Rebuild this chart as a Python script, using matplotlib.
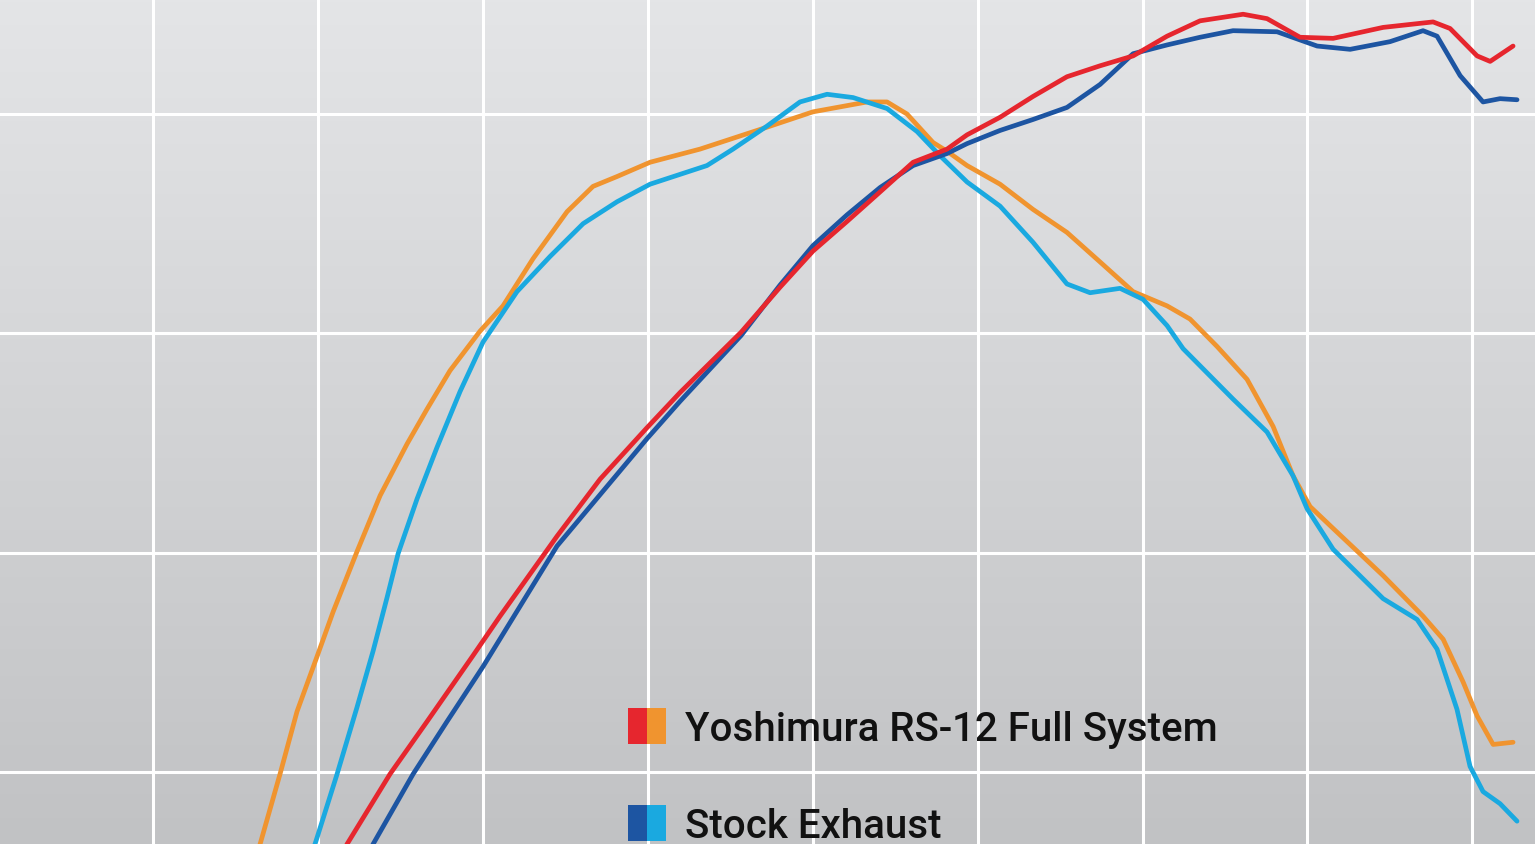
import numpy as np
from matplotlib import pyplot as plt
from matplotlib.patches import Patch
from matplotlib.legend_handler import HandlerTuple
from matplotlib.colors import LinearSegmentedColormap

# Yoshimura RS-12 full system, torque
yosh_tq_rpm = [2580, 2649, 2770, 2873, 2994, 3092, 3237, 3377, 3540, 3662, 3801, 3983, 4122, 4304,
               4511, 4668, 4814, 5014, 5317, 5723, 6002, 6330, 6451, 6572, 6730, 6815, 6936, 7136,
               7336, 7542, 7743, 7943, 8149, 8288, 8452, 8634, 8792, 8913, 9016, 9156, 9459, 9701,
               9823, 9944, 10029, 10126, 10247]
yosh_tq = [11.0, 13.4, 19.8, 25.5, 30.5, 34.6, 40.1, 45.2, 49.9, 53.1, 56.6, 60.2, 62.5, 66.8,
           71.1, 73.4, 74.3, 75.6, 76.8, 78.8, 80.2, 81.1, 81.1, 80.0, 77.4, 76.6, 75.3, 73.6,
           71.3, 69.2, 66.5, 63.8, 62.5, 61.3, 58.8, 55.8, 51.5, 47.0, 44.2, 42.2, 37.9, 34.2,
           32.1, 28.2, 25.1, 22.5, 22.7]

# stock exhaust, torque
stock_tq_rpm = [2958, 2982, 3116, 3237, 3334, 3419, 3486, 3601, 3722, 3862, 4001, 4207, 4407, 4608,
                4814, 5014, 5359, 5517, 5723, 5923, 6087, 6245, 6451, 6633, 6772, 6936, 7136, 7336,
                7542, 7682, 7864, 8003, 8149, 8246, 8549, 8755, 8913, 8998, 9156, 9459, 9665, 9786,
                9907, 9986, 10065, 10168, 10271]
stock_tq = [12.5, 13.4, 19.8, 25.9, 31.0, 35.9, 39.9, 44.9, 49.6, 54.7, 59.2, 63.8, 67.0, 70.0,
            72.0, 73.6, 75.3, 76.8, 78.9, 81.1, 81.8, 81.5, 80.5, 78.4, 76.2, 73.8, 71.6, 68.3,
            64.5, 63.7, 64.1, 63.1, 60.7, 58.6, 54.0, 51.0, 47.0, 44.0, 40.3, 35.8, 33.9, 31.2,
            25.7, 20.5, 18.2, 17.1, 15.5]

# Yoshimura RS-12 full system, horsepower
yosh_hp_rpm = [3152, 3176, 3437, 3662, 3940, 4104, 4450, 4711, 4996, 5196, 5566, 5802, 6002, 6208,
               6409, 6609, 6815, 6936, 7136, 7336, 7542, 7743, 7943, 8149, 8349, 8610, 8755, 8955,
               9156, 9459, 9762, 9865, 10029, 10108, 10247]
yosh_hp = [12.5, 13.4, 19.8, 24.6, 30.6, 34.2, 41.5, 46.7, 51.4, 54.6, 60.1, 64.2, 67.5, 70.2,
           72.9, 75.6, 76.8, 78.1, 79.7, 81.6, 83.4, 84.4, 85.3, 87.1, 88.5, 89.1, 88.7, 87.0,
           86.9, 87.9, 88.4, 87.8, 85.3, 84.8, 86.2]

# stock exhaust, horsepower
stock_hp_rpm = [3310, 3334, 3577, 3783, 4001, 4450, 4996, 5196, 5566, 5802, 6002, 6208, 6409,
                6609, 6815, 6936, 7136, 7336, 7542, 7743, 7943, 8149, 8349, 8549, 8816, 9059, 9259,
                9501, 9701, 9786, 9926, 10065, 10168, 10271]
stock_hp = [12.5, 13.4, 19.8, 24.6, 29.6, 40.6, 50.4, 53.8, 59.8, 64.4, 68.0, 70.8, 73.3,
            75.3, 76.4, 77.3, 78.5, 79.5, 80.6, 82.7, 85.5, 86.3, 87.0, 87.6, 87.5, 86.2, 85.9,
            86.6, 87.6, 87.1, 83.5, 81.1, 81.4, 81.3]

grid_rpm = [2000, 3000, 4000, 5000, 6000, 7000, 8000, 9000, 10000]
grid_val = [20, 40, 60, 80]

legend_labels = ["Yoshimura RS-12 Full System", "Stock Exhaust"]

RED, ORANGE = "#e6262e", "#f0942f"
DBLUE, LBLUE = "#1d55a2", "#1aa9e0"

fig = plt.figure(figsize=(15.35, 8.45), dpi=100)
ax = fig.add_axes([0, 0, 1, 1])
xlim = (1072, 10380)
ylim = (13.42, 90.49)

bg = LinearSegmentedColormap.from_list("bg", ["#c1c2c4", "#e4e5e7"])
ax.imshow(np.linspace(0, 1, 256).reshape(-1, 1), cmap=bg, origin="lower", aspect="auto",
          extent=(xlim[0], xlim[1], ylim[0], ylim[1]), zorder=0)

for g in grid_rpm:
    ax.axvline(g, color="white", lw=2.2, zorder=1)
for g in grid_val:
    ax.axhline(g, color="white", lw=2.2, zorder=1)

style = dict(lw=3.4, solid_capstyle="round", solid_joinstyle="round")
ax.plot(yosh_tq_rpm, yosh_tq, color=ORANGE, zorder=3, **style)
ax.plot(stock_tq_rpm, stock_tq, color=LBLUE, zorder=3, **style)
ax.plot(stock_hp_rpm, stock_hp, color=DBLUE, zorder=3, **style)
ax.plot(yosh_hp_rpm, yosh_hp, color=RED, zorder=4, **style)

ax.set_xlim(*xlim)
ax.set_ylim(*ylim)
ax.axis("off")

handles = [(Patch(facecolor=RED, edgecolor="none"), Patch(facecolor=ORANGE, edgecolor="none")),
           (Patch(facecolor=DBLUE, edgecolor="none"), Patch(facecolor=LBLUE, edgecolor="none"))]
leg = ax.legend(handles, legend_labels, handler_map={tuple: HandlerTuple(ndivide=None, pad=0)},
                loc="upper left", bbox_to_anchor=(0.409, 0.161), frameon=False,
                prop={"family": "Roboto", "size": 29, "weight": "medium"},
                handlelength=0.95, handleheight=1.0, handletextpad=0.48, labelspacing=1.42,
                borderpad=0, borderaxespad=0)
for t in leg.get_texts():
    t.set_color("#111111")

fig.savefig("out.png", dpi=100)
